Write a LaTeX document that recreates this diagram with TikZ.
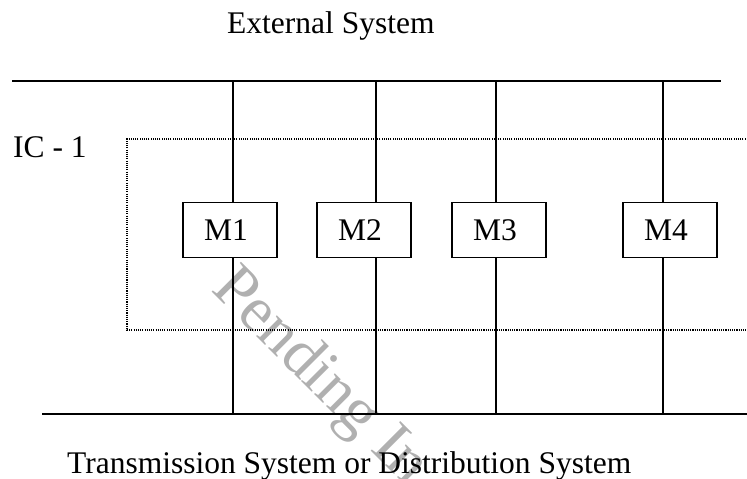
\documentclass[tikz,border=0pt]{standalone}
\usepackage{fontspec}
\setmainfont{Liberation Serif}
\definecolor{wmgray}{HTML}{B0B0B0}
\begin{document}
\begin{tikzpicture}[x=1pt,y=-1pt,
  lbl/.style={inner sep=0pt,font=\fontsize{31.5}{36}\selectfont},
  mbox/.style={draw,line width=1.2pt,minimum height=55pt,text width=52pt,inner xsep=21pt,align=left,font=\fontsize{31.5}{36}\selectfont},
  bus/.style={line width=1.6pt},
  feeder/.style={line width=1.2pt},
  icbox/.style={line width=1.1pt,dash pattern=on 1.1pt off 1.1pt}]
\useasboundingbox (0,0) rectangle (747,479);
% watermark
\node[inner sep=0pt,anchor=base west,rotate=-45,text=wmgray,font=\fontsize{64}{70}\selectfont] (wm) at (210,290) {Pending In};
% labels
\node[lbl,anchor=base west] (ext) at (227,34) {External System};
\node[lbl,anchor=base west] (ic) at (13,157) {IC - 1};
\node[lbl,anchor=base west] (trans) at (67,473) {Transmission System or Distribution System};
% IC-1 dotted area
\draw[icbox] (750,139) -- (127,139) -- (127,330) -- (750,330);
% buses
\coordinate (tbL) at (12,81);
\coordinate (tbR) at (721,81);
\coordinate (bbL) at (42,414);
\coordinate (bbR) at (750,414);
\draw[bus] (tbL) -- (tbR);
\draw[bus] (bbL) -- (bbR);
% modules
\node[mbox] (m1) at (230,230) {M1};
\node[mbox] (m2) at (364,230) {M2};
\node[mbox] (m3) at (499,230) {M3};
\node[mbox] (m4) at (670,230) {M4};
% feeders
\foreach \i/\x in {1/233,2/376,3/496,4/663}{
  \coordinate (t\i) at (\x,81);
  \coordinate (b\i) at (\x,414);
  \draw[feeder] (t\i) -- (t\i |- m\i.north);
  \draw[feeder] (b\i |- m\i.south) -- (b\i);
}
\end{tikzpicture}
\end{document}
